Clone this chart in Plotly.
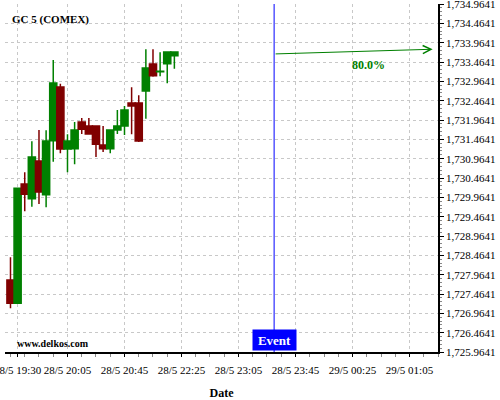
import plotly.graph_objects as go

# ---- data ----
idx = list(range(24))
opens = [1727.826, 1727.224, 1730.310, 1729.929, 1730.905, 1730.033, 1731.430, 1732.819,
         1731.215, 1731.223, 1731.913, 1731.810, 1731.810, 1731.318, 1731.223, 1731.706,
         1731.810, 1732.405, 1732.405, 1732.715, 1733.414, 1733.215, 1733.421, 1733.628]
highs = [1728.414, 1730.198, 1730.612, 1731.414, 1731.706, 1731.699, 1733.517, 1732.904,
         1731.595, 1731.913, 1732.017, 1732.017, 1731.810, 1731.810, 1731.706, 1732.224,
         1732.327, 1732.811, 1732.604, 1733.794, 1733.794, 1733.716, 1733.724, 1733.724]
lows = [1727.094, 1727.224, 1729.603, 1729.722, 1729.792, 1729.707, 1730.886, 1731.104,
        1730.612, 1730.819, 1731.603, 1731.580, 1731.008, 1731.137, 1731.104, 1731.603,
        1731.577, 1731.595, 1731.396, 1731.999, 1733.085, 1733.095, 1732.914, 1733.292]
closes = [1727.224, 1730.198, 1730.043, 1731.008, 1730.103, 1731.422, 1732.922, 1731.215,
          1731.422, 1731.706, 1731.725, 1731.603, 1731.337, 1731.223, 1731.706, 1731.810,
          1732.224, 1732.327, 1731.422, 1733.310, 1733.111, 1733.228, 1733.724, 1733.724]

tick_pos = [1, 8, 16, 24, 32, 40, 48, 56]
tick_labels = ["28/5 19:30", "28/5 20:05", "28/5 20:45", "28/5 22:25",
               "28/5 23:05", "28/5 23:45", "29/5 00:25", "29/5 01:05"]

event_idx = 37
arrow_start_price = 1733.672
arrow_end_idx = 59.25
arrow_end_price = 1733.794
prob_label = "80.0%"
prob_label_idx = 50.2
prob_label_price = 1733.39

y_min, y_max, y_step = 1725.9641, 1734.9641, 0.5

GREEN = "#008000"
RED = "#800000"
SERIF = "Liberation Serif, Times New Roman, serif"

fig = go.Figure()
fig.add_trace(go.Candlestick(
    x=idx, open=opens, high=highs, low=lows, close=closes,
    increasing=dict(line=dict(color=GREEN, width=1.5), fillcolor=GREEN),
    decreasing=dict(line=dict(color=RED, width=1.5), fillcolor=RED),
    whiskerwidth=0, showlegend=False, hoverinfo="skip",
))

# event line
fig.add_shape(type="line", xref="x", yref="paper", x0=event_idx, x1=event_idx,
              y0=0, y1=1, line=dict(color="#0000ff", width=1))

# projection arrow
fig.add_annotation(x=arrow_end_idx, y=arrow_end_price, ax=event_idx, ay=arrow_start_price,
                   xref="x", yref="y", axref="x", ayref="y", text="", showarrow=True,
                   arrowhead=5, arrowsize=1.6, arrowwidth=1, arrowcolor=GREEN)
fig.add_annotation(x=prob_label_idx, y=prob_label_price, xref="x", yref="y",
                   text="<b>%s</b>" % prob_label, showarrow=False,
                   font=dict(family=SERIF, size=12, color=GREEN))

# event label box
fig.add_annotation(x=event_idx, y=0.003, xref="x", yref="paper", yanchor="bottom",
                   text="<b>Event</b>", showarrow=False, bgcolor="#0000ff",
                   width=41, height=18, font=dict(family=SERIF, size=13, color="white"))

# title and watermark
fig.add_annotation(x=0.012, y=0.955, xref="paper", yref="paper", xanchor="left",
                   yanchor="middle", text="<b>GC 5 (COMEX)</b>", showarrow=False,
                   font=dict(family=SERIF, size=11, color="black"))
fig.add_annotation(x=0.023, y=0.004, xref="paper", yref="paper", xanchor="left",
                   yanchor="bottom", text="<b>www.delkos.com</b>", showarrow=False,
                   font=dict(family=SERIF, size=10, color="black"))

grid = dict(gridcolor="#c8c8c8", griddash="3px,3px", gridwidth=1)

fig.update_layout(
    width=500, height=400,
    margin=dict(l=5, r=62, t=4, b=48, autoexpand=False),
    paper_bgcolor="white", plot_bgcolor="white",
    boxgap=0.0, boxgroupgap=0.0,
    font=dict(family=SERIF, size=11, color="black"),
    xaxis=dict(
        range=[-0.77, 60], rangeslider=dict(visible=False),
        automargin=False, ticklabeloverflow="allow",
        tickmode="array", tickvals=tick_pos, ticktext=tick_labels,
        ticks="outside", ticklen=3, tickcolor="black", ticklabelstandoff=4,
        showline=True, linecolor="black", linewidth=1.5,
        zeroline=False,
        minor=dict(dtick=2, tick0=0, ticks="outside", ticklen=3, tickcolor="#888", showgrid=False),
        title=dict(text="<b>Date</b>", font=dict(family=SERIF, size=12), standoff=14),
        tickfont=dict(family=SERIF, size=11),
        **grid,
    ),
    yaxis=dict(
        side="right", range=[y_min, y_max],
        automargin=False, ticklabeloverflow="allow",
        tick0=y_min, dtick=y_step, tickformat=",.4f",
        ticks="outside", ticklen=4, tickcolor="black",
        showline=True, linecolor="black", linewidth=1.5,
        zeroline=False,
        minor=dict(dtick=0.1, tick0=y_min, ticks="outside", ticklen=2, tickcolor="#888", showgrid=False),
        tickfont=dict(family=SERIF, size=11),
        **grid,
    ),
)

fig.write_html("out.html", config={"displayModeBar": False},
               post_script="document.body.style.margin='0';")
